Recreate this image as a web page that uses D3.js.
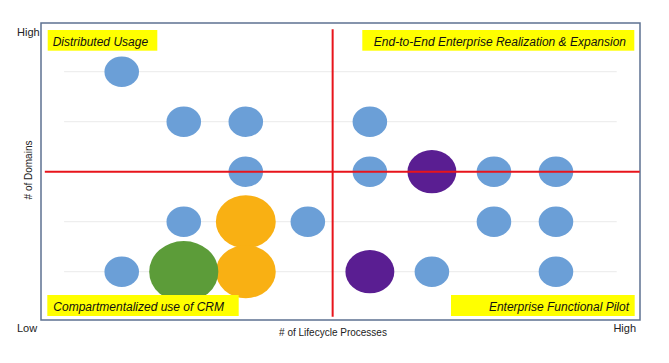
<!DOCTYPE html>
<html>
<head>
<meta charset="utf-8">
<script src="https://cdn.jsdelivr.net/npm/d3@7"></script>
<style>
  body { margin: 0; background: #fff; }
  text { font-family: "Liberation Sans", Arial, sans-serif; }
</style>
</head>
<body>
<svg id="chart" width="669" height="363"></svg>
<script>
// bubble data (x = lifecycle processes, y = domains, size = bubble size)
var pointX     = [1, 2, 3, 3, 2, 4, 1, 5, 5, 7, 8, 7, 8, 6, 8, 3, 3, 2, 6, 5];
var pointY     = [5, 4, 4, 3, 2, 2, 1, 4, 3, 3, 3, 2, 2, 1, 1, 2, 1, 1, 3, 1];
var pointSize  = [1, 1, 1, 1, 1, 1, 1, 1, 1, 1, 1, 1, 1, 1, 1, 3, 3, 4, 2, 2];
var pointGroup = ["blue", "blue", "blue", "blue", "blue", "blue", "blue", "blue", "blue", "blue",
                  "blue", "blue", "blue", "blue", "blue", "orange", "orange", "green", "purple", "purple"];

var gridValues = [1, 2, 3, 4, 5];
var xDivider = 4.4;
var yDivider = 3;

var quadrantLabels = ["Distributed Usage", "End-to-End Enterprise Realization & Expansion",
                      "Compartmentalized use of CRM", "Enterprise Functional Pilot"];
var axisEndLabels = ["Low", "High"];
var xTitle = "# of Lifecycle Processes";
var yTitle = "# of Domains";

var colors = {
  blue:   "#6b9fd7",
  orange: "#f9b013",
  green:  "#5c9c39",
  purple: "#5a1e92"
};

var drawChart = function() {
  var svg = d3.select("svg#chart");

  /*Scales*/
  var xScale = d3.scaleLinear()
    .domain([0, 9])
    .range([59.7, 618]);

  var yScale = d3.scaleLinear()
    .domain([0, 6])
    .range([321.7, 21.7]);

  var rScale = d3.scaleSqrt()
    .domain([0, 1])
    .range([0, 15.3]);
  var stretch = 1.13; // bubbles come out a bit wider than tall

  // plot area frame
  svg.append("rect")
    .attr("x", 41)
    .attr("y", 23)
    .attr("width", 599)
    .attr("height", 297)
    .attr("fill", "none")
    .attr("stroke", "#5d7191")
    .attr("stroke-width", 1.5);

  // light gridlines
  svg.append("g")
    .attr("class", "grid")
    .selectAll("line")
    .data(gridValues)
    .enter().append("line")
      .attr("x1", xScale(0.07))
      .attr("x2", xScale(8.98))
      .attr("y1", function(d) { return yScale(d); })
      .attr("y2", function(d) { return yScale(d); })
      .attr("stroke", "#ebebeb")
      .attr("stroke-width", 1);

  var points = d3.range(pointX.length).map(function(i) {
    return { x: pointX[i], y: pointY[i], size: pointSize[i], group: pointGroup[i] };
  });

  svg.append("g")
    .attr("id", "bubbles")
    .selectAll("ellipse")
    .data(points)
    .enter().append("ellipse")
      .attr("cx", function(d) { return xScale(d.x); })
      .attr("cy", function(d) { return yScale(d.y); })
      .attr("rx", function(d) { return rScale(d.size) * stretch; })
      .attr("ry", function(d) { return rScale(d.size); })
      .attr("fill", function(d) { return colors[d.group]; });

  // red quadrant dividers
  svg.append("line")
    .attr("x1", xScale(xDivider))
    .attr("x2", xScale(xDivider))
    .attr("y1", yScale(0.1))
    .attr("y2", yScale(5.85))
    .attr("stroke", "#e8141b")
    .attr("stroke-width", 2);

  svg.append("line")
    .attr("x1", xScale(-0.24))
    .attr("x2", xScale(9.35))
    .attr("y1", yScale(yDivider))
    .attr("y2", yScale(yDivider))
    .attr("stroke", "#e8141b")
    .attr("stroke-width", 2);

  // quadrant label boxes
  var boxes = [
    { x: 47.7, y: 30, w: 109.6, h: 20.7, anchor: "start", tx: 52.7, ty: 45.5 },
    { x: 362.3, y: 30, w: 272, h: 20.7, anchor: "end", tx: 626, ty: 45.5 },
    { x: 47.3, y: 295, w: 191.4, h: 21, anchor: "start", tx: 53.3, ty: 310.5 },
    { x: 451, y: 295, w: 183.7, h: 21, anchor: "end", tx: 629, ty: 310.5 }
  ];

  var labels = svg.append("g").attr("id", "quadrants");
  boxes.forEach(function(b, i) {
    labels.append("rect")
      .attr("x", b.x)
      .attr("y", b.y)
      .attr("width", b.w)
      .attr("height", b.h)
      .attr("fill", "#ffff00");
    labels.append("text")
      .attr("x", b.tx)
      .attr("y", b.ty)
      .attr("text-anchor", b.anchor)
      .attr("font-size", 12)
      .attr("font-style", "italic")
      .attr("fill", "#111")
      .text(quadrantLabels[i]);
  });

  // axis end labels
  svg.append("text")
    .attr("x", 17)
    .attr("y", 36)
    .attr("font-size", 11)
    .attr("fill", "#222")
    .text(axisEndLabels[1]);

  svg.append("text")
    .attr("x", 17)
    .attr("y", 332)
    .attr("font-size", 11)
    .attr("fill", "#222")
    .text(axisEndLabels[0]);

  svg.append("text")
    .attr("x", 636)
    .attr("y", 332)
    .attr("text-anchor", "end")
    .attr("font-size", 11)
    .attr("fill", "#222")
    .text(axisEndLabels[1]);

  // axis titles
  svg.append("text")
    .attr("x", 333)
    .attr("y", 336)
    .attr("text-anchor", "middle")
    .attr("font-size", 10)
    .attr("fill", "#222")
    .text(xTitle);

  svg.append("text")
    .attr("transform", "translate(32, 170) rotate(-90)")
    .attr("text-anchor", "middle")
    .attr("font-size", 10)
    .attr("fill", "#222")
    .text(yTitle);
}

drawChart();
</script>
</body>
</html>
